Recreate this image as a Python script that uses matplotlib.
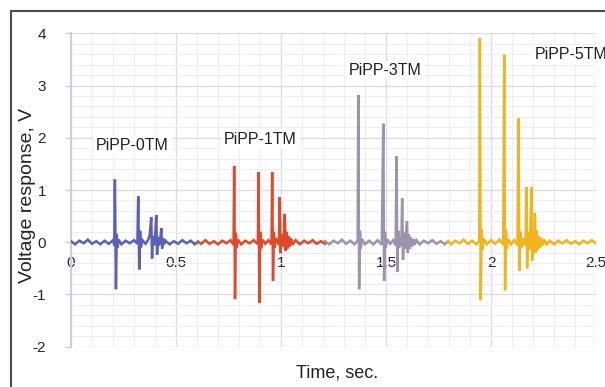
import matplotlib.pyplot as plt
from matplotlib.lines import Line2D
from matplotlib.ticker import MultipleLocator

plt.rcParams['font.family'] = ['Liberation Sans', 'DejaVu Sans']
plt.rcParams['axes.unicode_minus'] = False

# time (s) and voltage (V) for each sample
t_0tm = [0.00, 0.02, 0.04, 0.06, 0.08, 0.10, 0.12, 0.14, 0.16, 0.18, 0.20,
         0.206, 0.209, 0.214, 0.218, 0.222, 0.227, 0.24, 0.26, 0.28, 0.30,
         0.316, 0.320, 0.325, 0.329, 0.333, 0.340, 0.355, 0.368, 0.375, 0.382,
         0.386, 0.390, 0.395, 0.400, 0.406, 0.410, 0.414, 0.419, 0.425, 0.430,
         0.434, 0.438, 0.444, 0.45, 0.47, 0.49, 0.51, 0.53, 0.55, 0.57, 0.59, 0.605]
v_0tm = [0.02, -0.04, 0.03, -0.02, 0.05, -0.03, 0.02, -0.04, 0.03, -0.03, 0.04,
         -0.06, 1.20, -0.90, 0.16, -0.10, 0.05, -0.04, 0.03, -0.02, 0.04,
         -0.03, 0.88, -0.52, 0.22, -0.10, 0.04, -0.03, 0.05, 0.14, 0.48,
         -0.31, 0.12, -0.06, 0.08, 0.52, -0.24, 0.10, -0.06, 0.06, 0.27,
         -0.12, 0.08, -0.04, 0.03, -0.04, 0.02, -0.03, 0.04, -0.02, 0.03, -0.04, 0.01]

t_1tm = [0.605, 0.62, 0.64, 0.66, 0.68, 0.70, 0.72, 0.74, 0.76, 0.774, 0.777,
         0.781, 0.785, 0.789, 0.795, 0.81, 0.83, 0.85, 0.87, 0.89, 0.893,
         0.897, 0.901, 0.905, 0.912, 0.925, 0.94, 0.955, 0.958, 0.962, 0.966,
         0.970, 0.976, 0.990, 0.994, 0.998, 1.002, 1.007, 1.013, 1.018, 1.022,
         1.026, 1.031, 1.036, 1.042, 1.048, 1.055, 1.07, 1.09, 1.11, 1.13,
         1.15, 1.17, 1.19, 1.21]
v_1tm = [0.01, -0.03, 0.04, -0.03, 0.02, -0.04, 0.03, -0.02, 0.04, -0.05, 1.46,
         -1.09, 0.18, -0.10, 0.05, -0.04, 0.03, -0.02, 0.04, -0.04, 1.34,
         -1.16, 0.20, -0.12, 0.05, -0.03, 0.04, -0.04, 1.34, -0.74, 0.20,
         -0.10, 0.08, -0.05, 0.86, -0.21, 0.15, -0.08, 0.10, 0.54, -0.16,
         0.20, -0.12, 0.12, -0.08, 0.07, -0.05, 0.04, -0.04, 0.03, -0.02,
         0.04, -0.03, 0.02, -0.03]

t_3tm = [1.21, 1.23, 1.25, 1.27, 1.29, 1.31, 1.33, 1.35, 1.365, 1.368, 1.372,
         1.376, 1.380, 1.386, 1.40, 1.42, 1.44, 1.46, 1.48, 1.487, 1.491,
         1.495, 1.499, 1.506, 1.52, 1.535, 1.546, 1.550, 1.554, 1.558, 1.563,
         1.568, 1.573, 1.577, 1.581, 1.585, 1.590, 1.595, 1.600, 1.604, 1.608,
         1.613, 1.618, 1.624, 1.630, 1.637, 1.645, 1.66, 1.68, 1.70, 1.72,
         1.74, 1.76, 1.78, 1.795]
v_3tm = [0.02, -0.04, 0.03, -0.02, 0.05, -0.03, 0.03, -0.04, 0.03, 2.82, -0.90,
         0.22, -0.12, 0.06, -0.04, 0.03, -0.04, 0.04, -0.05, 2.27, -0.74,
         0.20, -0.10, 0.06, -0.03, 0.04, -0.06, 1.65, -0.57, 0.22, -0.10,
         0.08, -0.06, 0.84, -0.34, 0.18, -0.12, 0.12, 0.40, -0.20, 0.15,
         -0.12, 0.10, -0.08, 0.06, -0.05, 0.04, -0.04, 0.03, -0.02, 0.04,
         -0.03, 0.02, -0.04, 0.02]

t_5tm = [1.795, 1.81, 1.83, 1.85, 1.87, 1.89, 1.91, 1.93, 1.944, 1.947, 1.951,
         1.955, 1.959, 1.965, 1.98, 2.00, 2.02, 2.04, 2.058, 2.063, 2.067,
         2.071, 2.075, 2.082, 2.095, 2.11, 2.126, 2.131, 2.135, 2.139, 2.144,
         2.150, 2.158, 2.165, 2.168, 2.172, 2.176, 2.181, 2.187, 2.192, 2.196,
         2.200, 2.205, 2.209, 2.213, 2.217, 2.222, 2.228, 2.234, 2.240, 2.247,
         2.255, 2.265, 2.28, 2.30, 2.32, 2.34, 2.36, 2.38, 2.40, 2.42,
         2.44, 2.46, 2.48, 2.50]
v_5tm = [0.02, -0.04, 0.03, -0.02, 0.05, -0.03, 0.03, -0.04, 0.03, 3.91, -1.11,
         0.25, -0.14, 0.07, -0.04, 0.04, -0.03, 0.05, -0.05, 3.59, -0.92,
         0.24, -0.12, 0.06, -0.04, 0.04, -0.06, 2.37, -0.55, 0.20, -0.10,
         0.08, -0.06, 0.10, 1.05, -0.50, 0.20, -0.14, 0.12, 1.05, -0.35,
         0.18, -0.14, 0.56, -0.20, 0.22, -0.14, 0.12, -0.10, 0.08, -0.06,
         0.05, -0.04, 0.03, -0.04, 0.03, -0.02, 0.04, -0.03, 0.02, -0.04,
         0.03, -0.02, 0.04, -0.02]

labels = ['PiPP-0TM', 'PiPP-1TM', 'PiPP-3TM', 'PiPP-5TM']
label_x = [0.293, 0.902, 1.495, 2.21]
label_y = [1.86, 1.975, 3.28, 3.59]
colors = ['#5a60b8', '#e2492a', '#9b94ad', '#f1b41c']

fig = plt.figure(figsize=(6.05, 3.87), dpi=100)
ax = fig.add_axes([71 / 605, 1 - 346.7 / 387, 525 / 605, 313.4 / 387])

series = [(t_0tm, v_0tm), (t_1tm, v_1tm), (t_3tm, v_3tm), (t_5tm, v_5tm)]
for (t, v), c in zip(series, colors):
    ax.plot(t, v, color=c, lw=1.8, solid_joinstyle='miter', zorder=3)

for txt, x, y, ha in zip(labels, label_x, label_y, ['center', 'center', 'center', 'left']):
    ax.text(x, y, txt, ha=ha, va='center', fontsize=11.5, color='#222222',
            bbox=dict(facecolor='white', edgecolor='none', pad=2), zorder=4,
            clip_on=False)

ax.set_xlim(0, 2.5)
ax.set_ylim(-2, 4)
ax.xaxis.set_major_locator(MultipleLocator(0.5))
ax.xaxis.set_minor_locator(MultipleLocator(0.1))
ax.yaxis.set_major_locator(MultipleLocator(1))
ax.yaxis.set_minor_locator(MultipleLocator(0.2))
ax.set_xticks([0, 0.5, 1, 1.5, 2, 2.5], ['0', '0.5', '1', '1.5', '2', '2.5'])

ax.grid(which='major', color='#dcdce8', lw=1.0, zorder=0)
ax.grid(which='minor', color='#ededf3', lw=0.8, zorder=0)
ax.set_axisbelow(True)

for s in ['top', 'right']:
    ax.spines[s].set_visible(False)
ax.spines['bottom'].set_position(('data', 0))
ax.spines['bottom'].set_visible(False)
ax.spines['left'].set_color('#cdcde0')
ax.spines['left'].set_linewidth(1.5)

ax.tick_params(axis='x', which='both', length=0, pad=10, labelsize=11, labelcolor='#262626')
ax.tick_params(axis='y', which='major', length=4, width=1, color='#cdcde0',
               pad=14, labelsize=11, labelcolor='#262626')
ax.tick_params(axis='y', which='minor', length=0)

fig.text(337 / 605, 1 - 373 / 387, 'Time, sec.', ha='center', va='center',
         fontsize=13, color='#222222')
fig.text(28 / 605, 1 - 195 / 387, 'Voltage response, V', ha='center', va='center',
         rotation=90, fontsize=14, color='#222222')

# outer frame (left and top edges visible in the crop)
fx = 10.5 / 605
fy = 1 - 10.5 / 387
fig.add_artist(Line2D([fx, fx], [0, fy], transform=fig.transFigure, color='#4d4d4d', lw=1.5))
fig.add_artist(Line2D([fx, 1], [fy, fy], transform=fig.transFigure, color='#4d4d4d', lw=1.5))

fig.savefig('out.png', dpi=100)
